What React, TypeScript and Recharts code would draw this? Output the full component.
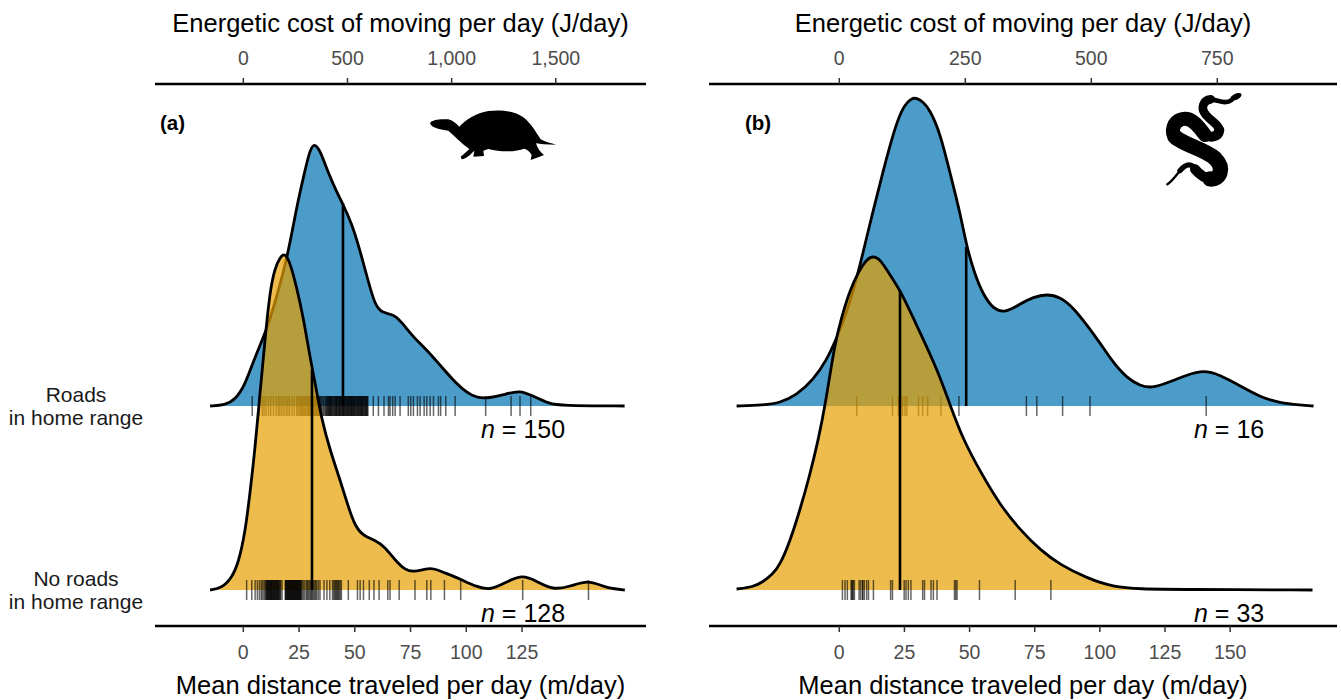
import {
  Area,
  ComposedChart,
  ReferenceLine,
  Scatter,
  XAxis,
  YAxis,
} from "recharts";

const FONT = "'Liberation Sans', Arial, sans-serif";
const BLUE = "#0072B2";
const YELLOW = "#E69F00";

// height of one ridge row, in scaled density units
const ROW_GAP = 184;

// turtles
const turtleRoadX = [-14.9, -8.2, -3.7, 0.8, 5.2, 10.5, 15, 20.2, 23.9, 27.7, 29.9, 31.8, 34.4, 38.1, 41.9, 44.4, 48.6, 52.3, 56.1, 59.1, 62.1, 67.3, 71, 76.2, 81.5, 88.2, 94, 100.3, 104.8, 110.6, 116.5, 124, 129.9, 137.5, 142, 171];
const turtleRoadY = [0, 1, 6, 21, 49, 76, 109, 153, 199, 236, 256, 263, 256, 233, 214, 203, 183, 156, 124, 101, 93, 92, 84, 69, 58, 41, 26, 13, 8, 8, 11, 16, 10, 2, 0.5, 0];
const turtleNoRoadX = [-14.9, -9.7, -5.2, -2.2, 0.8, 3, 5.2, 7.5, 9.7, 12, 14.2, 16.5, 18.7, 20.9, 23.9, 26.9, 29.9, 32.2, 35.2, 38.9, 43.4, 47.1, 50.1, 53.8, 59.1, 63.5, 68, 72.5, 76.2, 81.5, 85.1, 90.5, 97.2, 104.8, 110.6, 116.5, 125, 131.7, 138.9, 146.5, 154.6, 161.3, 166.7, 171.1];
const turtleNoRoadY = [0, 2, 12, 27, 57, 97, 140, 197, 250, 300, 322, 333, 337, 328, 303, 273, 233, 207, 170, 140, 110, 83, 64, 54, 50, 43, 30, 20, 18, 21, 22, 17, 11, 3, 0, 6, 16, 8.5, 0, 3.5, 10, 3.5, 1, 0];
const turtleRoadRug = [4, 7.2, 8.5, 9.3, 10.2, 11.3, 12.3, 13.5, 14.7, 15.7, 16.4, 17.3, 18.2, 19.2, 20, 20.8, 21.9, 22.9, 24, 24.6, 25.3, 25.9, 26.3, 26.9, 27.5, 28, 28.7, 29.2, 29.7, 30.3, 30.6, 30.9, 31.4, 31.9, 32.3, 32.7, 33.1, 33.5, 33.8, 34.1, 34.4, 34.8, 35.2, 35.7, 36.1, 36.6, 37, 37.3, 37.6, 37.9, 38.2, 38.4, 38.7, 38.9, 39.1, 39.3, 39.6, 39.9, 40.2, 40.5, 40.8, 41.1, 41.4, 41.6, 41.8, 42, 42.3, 42.6, 42.9, 43.1, 43.3, 43.5, 43.8, 44.1, 44.3, 44.6, 44.8, 45, 45.2, 45.4, 45.7, 46, 46.2, 46.5, 46.7, 47, 47.2, 47.4, 47.7, 48, 48.2, 48.4, 48.6, 48.9, 49.1, 49.4, 49.6, 49.8, 50, 50.3, 50.6, 50.9, 51.1, 51.4, 51.6, 51.9, 52.1, 52.4, 52.6, 52.9, 53.1, 53.3, 53.5, 53.8, 54.1, 54.4, 54.6, 54.9, 55.1, 55.4, 55.6, 55.9, 58.3, 60.6, 63.1, 65.1, 65.8, 67, 68.1, 70.3, 74, 75.1, 76.3, 78.1, 79.3, 81.1, 82.3, 83.8, 85.3, 87.5, 88.5, 90.8, 95, 108.7, 120.1, 124.1, 128.9];
const turtleNoRoadRug = [1.5, 3.8, 5.3, 6.3, 7.2, 8, 8.5, 9.2, 9.7, 10.1, 10.4, 10.6, 10.8, 11, 11.2, 11.4, 11.7, 11.9, 12.1, 12.3, 12.5, 12.7, 12.9, 13.1, 13.3, 13.6, 13.8, 14, 14.2, 14.4, 14.7, 14.9, 15.1, 15.3, 15.5, 15.7, 16, 16.2, 16.5, 16.8, 17.4, 18.8, 19, 19.2, 19.4, 19.6, 19.8, 20, 20.2, 20.4, 20.6, 20.8, 21, 21.2, 21.4, 21.6, 21.8, 22, 22.2, 22.4, 22.6, 22.8, 23, 23.2, 23.4, 23.6, 23.8, 24, 24.2, 24.4, 24.6, 24.8, 25, 25.2, 25.4, 25.6, 25.8, 26, 26.5, 27, 27.6, 28.3, 28.7, 29.2, 29.7, 30.2, 30.6, 31, 31.5, 32, 32.5, 33, 33.7, 34.4, 36.2, 37.5, 38.8, 40, 40.5, 41, 41.4, 41.8, 42.2, 42.6, 43, 43.5, 44, 47.1, 51.2, 52.4, 53.9, 56.5, 58.6, 60.9, 64.8, 65.8, 69.9, 77, 82.3, 84.1, 90.2, 97.5, 125.3, 154.8];

// snakes
const snakeRoadX = [-39.4, -29.2, -22.8, -16.4, -10, -4.8, -1, 2.8, 7.3, 11.8, 16.9, 21.4, 24.6, 27.8, 29.7, 32.3, 34.8, 38.7, 42.5, 46.4, 48.9, 52.1, 55.3, 59.1, 63.6, 69.4, 74.5, 79.6, 84.8, 89.9, 95, 100.1, 105.2, 110.4, 115.5, 120, 125.7, 133.4, 139.8, 146.2, 153.9, 161.5, 169.2, 176.9, 182];
const snakeRoadY = [0, 1, 3, 11, 26, 46, 68, 93, 133, 183, 236, 279, 300, 308, 308, 304, 296, 273, 233, 193, 159, 131, 111, 97, 93, 102, 109, 112, 109, 98, 81, 63, 43, 28, 20, 18, 23, 31, 36, 31, 20, 9, 3, 1, 0];
const snakeNoRoadX = [-39.4, -33.1, -29.3, -25.5, -22.8, -19, -15.1, -11.3, -8.1, -5.5, -1.7, 0.9, 4.1, 7.3, 10.5, 13.1, 15.6, 19.5, 23.3, 28.4, 33.6, 38.7, 42.5, 47.6, 54.2, 61.7, 69.4, 77.1, 84.8, 95, 105.1, 115.5, 130.8, 181.6];
const snakeNoRoadY = [1, 3, 8, 16, 25, 48, 80, 115, 150, 183, 247, 273, 300, 318, 331, 334, 331, 315, 300, 272, 243, 213, 185, 150, 118, 85, 60, 40, 25, 12, 3, 1, 0.5, 0];
const snakeRoadRug = [6.7, 20.4, 22.7, 24.3, 25.2, 25.9, 30.4, 32, 33.9, 39, 45.9, 71.8, 75.8, 85.7, 96.2, 140.8];
const snakeNoRoadRug = [1.2, 2.2, 3.1, 4.5, 4.9, 5, 5.4, 5.8, 7.6, 8.2, 8.9, 9, 9.6, 10.5, 11.2, 13.1, 19.7, 20.4, 24.9, 25.6, 26.5, 27.5, 32, 32.7, 35.2, 36.1, 37.5, 44.2, 44.7, 45.2, 53.8, 67.5, 81.2];

const turtleDistTicks = [0, 25, 50, 75, 100, 125];
const turtleCostTicks = [0, 500, 1000, 1500];
const snakeDistTicks = [0, 25, 50, 75, 100, 125, 150];
const snakeCostTicks = [0, 250, 500, 750];

const rowLabels = ["No roads", "Roads"];

const toRows = (xs: number[], ys: number[], base: number) =>
  xs.map((x, i) => ({ x, y: base + ys[i] }));
const toRug = (xs: number[], base: number) => xs.map((x) => ({ x, y: base }));

const RugTick = ({ cx, cy }: any) => (
  <line x1={cx} x2={cx} y1={cy - 10} y2={cy + 10} stroke="#000" strokeOpacity={0.6} strokeWidth={1.5} />
);

const RowTick = ({ y, payload }: any) => (
  <text textAnchor="middle" fontFamily={FONT} fontSize={21} fill="#1a1a1a">
    <tspan x={76} y={y - 4}>{rowLabels[payload.value === 0 ? 0 : 1]}</tspan>
    <tspan x={76} y={y + 19}>in home range</tspan>
  </text>
);

function Ridge({ left, width, showRows, distDomain, costDomain, distTicks, costTicks, upper, lower, upperRug, lowerRug, upperMedian, lowerMedian }: any) {
  const axisLine = { stroke: "#000", strokeWidth: 2.4 };
  const tickLine = { stroke: "#333", strokeWidth: 1.5 };
  const tick = { fontSize: 19.5, fill: "#4D4D4D", fontFamily: FONT };
  const medianStyle = { stroke: "#000", strokeWidth: 2.6 };
  return (
    <div style={{ position: "absolute", left, top: 0 }}>
      <ComposedChart width={width} height={700} margin={{ top: 0, right: 0, bottom: 0, left: 0 }}>
        <XAxis
          xAxisId="cost"
          dataKey="x"
          orientation="top"
          type="number"
          domain={costDomain}
          ticks={costTicks}
          allowDataOverflow
          height={84}
          tickSize={6}
          tickMargin={13}
          axisLine={axisLine}
          tickLine={tickLine}
          tick={tick}
          tickFormatter={(v: number) => v.toLocaleString("en-US")}
          label={{ value: "Energetic cost of moving per day (J/day)", position: "insideTop", offset: 14, fontSize: 25.5, fill: "#000", fontFamily: FONT }}
        />
        <XAxis
          xAxisId="dist"
          dataKey="x"
          type="number"
          domain={distDomain}
          ticks={distTicks}
          allowDataOverflow
          height={74}
          tickSize={6}
          tickMargin={13}
          axisLine={axisLine}
          tickLine={tickLine}
          tick={tick}
          label={{ value: "Mean distance traveled per day (m/day)", position: "insideBottom", offset: 6, fontSize: 25.5, fill: "#000", fontFamily: FONT }}
        />
        <YAxis
          yAxisId="ridge"
          type="number"
          domain={[-36, 506]}
          ticks={[0, ROW_GAP]}
          hide={!showRows}
          width={showRows ? 155 : 0}
          axisLine={false}
          tickLine={false}
          tick={<RowTick />}
        />
        {/* empty series, the top axis only draws its ticks when something is bound to it */}
        <Scatter data={costTicks.map((x: number) => ({ x, y: 0 }))} xAxisId="cost" yAxisId="ridge" dataKey="y" shape={() => <g />} isAnimationActive={false} />
        <Area data={upper} xAxisId="dist" yAxisId="ridge" dataKey="y" type="basis" baseValue={ROW_GAP} fill={BLUE} fillOpacity={0.7} stroke="#000" strokeWidth={2.8} dot={false} activeDot={false} isAnimationActive={false} zIndex={101} />
        <ReferenceLine xAxisId="dist" yAxisId="ridge" segment={[{ x: upperMedian[0], y: ROW_GAP }, { x: upperMedian[0], y: ROW_GAP + upperMedian[1] }]} {...medianStyle} zIndex={102} />
        <Scatter data={upperRug} xAxisId="dist" yAxisId="ridge" dataKey="y" shape={<RugTick />} isAnimationActive={false} zIndex={103} />
        <Area data={lower} xAxisId="dist" yAxisId="ridge" dataKey="y" type="basis" baseValue={0} fill={YELLOW} fillOpacity={0.7} stroke="#000" strokeWidth={2.8} dot={false} activeDot={false} isAnimationActive={false} zIndex={104} />
        <ReferenceLine xAxisId="dist" yAxisId="ridge" segment={[{ x: lowerMedian[0], y: 0 }, { x: lowerMedian[0], y: lowerMedian[1] }]} {...medianStyle} zIndex={105} />
        <Scatter data={lowerRug} xAxisId="dist" yAxisId="ridge" dataKey="y" shape={<RugTick />} isAnimationActive={false} zIndex={106} />
      </ComposedChart>
    </div>
  );
}

const Count = ({ x, y, n }: any) => (
  <text x={x} y={y} fontFamily={FONT} fontSize={25} fill="#000">
    <tspan fontStyle="italic">n</tspan> = {n}
  </text>
);

const Turtle = () => (
  <path
    transform="translate(420 100) scale(0.3333)"
    d="M30,70 C32,60 60,56 85,58 C100,62 110,72 118,80 C135,60 170,38 205,33 C250,28 285,35 310,52 C335,72 350,100 362,118 C375,126 395,130 408,134 L370,133 L348,130 C352,145 362,158 372,165 L355,172 L332,180 L335,165 C330,155 322,148 312,146 C290,155 245,158 205,147 L190,152 L192,168 L160,170 L163,152 C150,165 140,175 125,178 L122,170 C135,160 142,152 148,147 C125,130 105,110 85,92 C65,90 35,85 30,70 Z"
    fill="#000"
  />
);

const Snake = () => (
  <g transform="translate(1140 80) scale(0.3333)" fill="none" stroke="#000" strokeLinecap="round">
    <ellipse cx={288} cy={50} rx={18} ry={9} transform="rotate(-25 288 50)" fill="#000" stroke="none" />
    <path d="M275,60 C255,75 235,60 212,58" strokeWidth={14} />
    <path d="M212,58 C190,60 180,85 198,105 C215,125 240,135 238,155" strokeWidth={26} />
    <path d="M238,150 C235,175 205,175 190,160" strokeWidth={30} />
    <path d="M195,165 C170,130 150,110 125,118 C100,125 90,155 108,175" strokeWidth={42} />
    <path d="M105,170 C130,195 190,205 225,235 C255,265 240,300 210,297" strokeWidth={46} />
    <path d="M215,298 C190,295 175,280 165,268" strokeWidth={30} />
    <path d="M172,272 C155,250 140,248 120,272" strokeWidth={16} />
    <path d="M125,266 C105,290 95,305 82,313" strokeWidth={7} />
  </g>
);

export default function App() {
  return (
    <div style={{ position: "absolute", left: 0, top: 0, width: 1341, height: 700, background: "#fff" }}>
      <Ridge
        left={0}
        width={646}
        showRows
        distDomain={[-39.6, 180.6]}
        costDomain={[-424, 1933]}
        distTicks={turtleDistTicks}
        costTicks={turtleCostTicks}
        upper={toRows(turtleRoadX, turtleRoadY, ROW_GAP)}
        lower={toRows(turtleNoRoadX, turtleNoRoadY, 0)}
        upperRug={toRug(turtleRoadRug, ROW_GAP)}
        lowerRug={toRug(turtleNoRoadRug, 0)}
        upperMedian={[44.7, 203]}
        lowerMedian={[30.8, 220]}
      />
      <Ridge
        left={709}
        width={628}
        distDomain={[-50, 191]}
        costDomain={[-258.5, 987.5]}
        distTicks={snakeDistTicks}
        costTicks={snakeCostTicks}
        upper={toRows(snakeRoadX, snakeRoadY, ROW_GAP)}
        lower={toRows(snakeNoRoadX, snakeNoRoadY, 0)}
        upperRug={toRug(snakeRoadRug, ROW_GAP)}
        lowerRug={toRug(snakeNoRoadRug, 0)}
        upperMedian={[48.7, 159]}
        lowerMedian={[23.3, 300]}
      />
      <svg width={1341} height={700} style={{ position: "absolute", left: 0, top: 0, pointerEvents: "none" }}>
        <text x={160} y={130} fontFamily={FONT} fontSize={20.5} fontWeight="bold">(a)</text>
        <text x={745} y={130} fontFamily={FONT} fontSize={20.5} fontWeight="bold">(b)</text>
        <Count x={481} y={438} n={150} />
        <Count x={481} y={622} n={128} />
        <Count x={1194} y={438} n={16} />
        <Count x={1194} y={622} n={33} />
        <Turtle />
        <Snake />
      </svg>
    </div>
  );
}
